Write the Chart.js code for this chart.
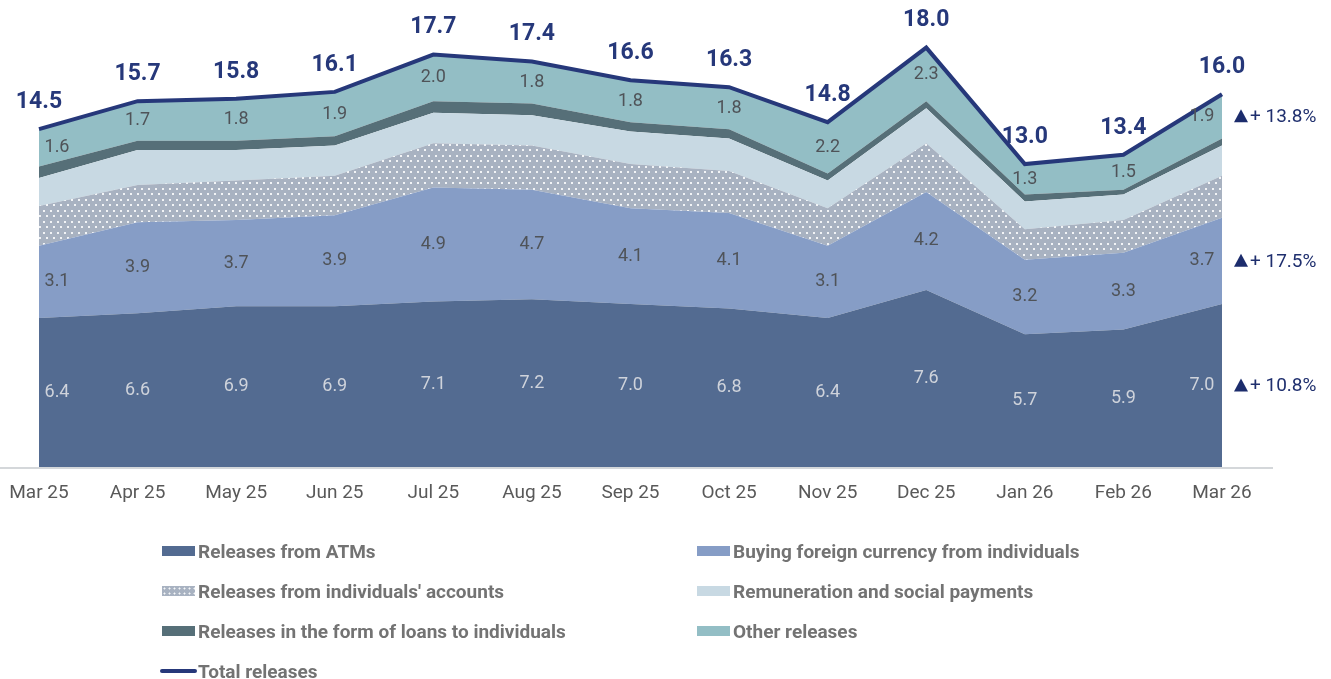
<!DOCTYPE html>
<html><head><meta charset="utf-8">
<script src="https://cdn.jsdelivr.net/npm/chart.js@4.4.1/dist/chart.umd.min.js"></script>
<style>
html,body{margin:0;padding:0;background:#fff;width:1331px;height:679px;overflow:hidden;font-family:Roboto,sans-serif;}
#wrap{position:absolute;left:0;top:0;width:1331px;height:520px;}
#legend{position:absolute;left:0;top:0;width:1331px;height:679px;pointer-events:none;}
.li{position:absolute;display:flex;align-items:center;height:22px;font:700 19px Roboto,sans-serif;color:#737373;white-space:nowrap;}
.sw{width:33px;height:10px;margin-right:3px;flex:none;}
</style></head>
<body>
<div id="wrap"><canvas id="c" width="1331" height="520"></canvas></div>
<div id="legend"></div>
<script>
// ---- data ----
const categories = ['Mar 25','Apr 25','May 25','Jun 25','Jul 25','Aug 25','Sep 25','Oct 25','Nov 25','Dec 25','Jan 26','Feb 26','Mar 26'];
const atms         = [6.4,6.6,6.9,6.9,7.1,7.2,7.0,6.8,6.4,7.6,5.7,5.9,7.0];
const fxBuying     = [3.1,3.9,3.7,3.9,4.9,4.7,4.1,4.1,3.1,4.2,3.2,3.3,3.7];
const accounts     = [1.7,1.6,1.7,1.7,1.9,1.9,1.9,1.8,1.6,2.1,1.3,1.4,1.8];
const remuneration = [1.2,1.5,1.3,1.3,1.3,1.3,1.4,1.4,1.2,1.5,1.2,1.1,1.3];
const loans        = [0.5,0.4,0.4,0.4,0.5,0.5,0.4,0.4,0.3,0.3,0.3,0.2,0.3];
const other        = [1.6,1.7,1.8,1.9,2.0,1.8,1.8,1.8,2.2,2.3,1.3,1.5,1.9];
const total        = [14.5,15.7,15.8,16.1,17.7,17.4,16.6,16.3,14.8,18.0,13.0,13.4,16.0];
const seriesNames  = ['Releases from ATMs','Buying foreign currency from individuals',"Releases from individuals' accounts",'Remuneration and social payments','Releases in the form of loans to individuals','Other releases','Total releases'];
const changeLabels = ['+ 10.8%','+ 17.5%','+ 13.8%']; // ATMs, buying FX, other releases

// ---- styles ----
const COLORS = ['#536b91','#869dc6','#a8b2c1','#c8d9e3','#566f78','#93bec5','#26387a'];
const canvas = document.getElementById('c');
const mctx = canvas.getContext('2d');
function dotPattern(){
  const t=document.createElement('canvas'); t.width=7; t.height=11;
  const g=t.getContext('2d'); g.fillStyle=COLORS[2]; g.fillRect(0,0,7,11);
  g.fillStyle='rgba(255,255,255,0.85)'; g.fillRect(1,1,2,2); g.fillRect(4,6,2,2);
  return mctx.createPattern(t,'repeat');
}
const areaSeries=[atms,fxBuying,accounts,remuneration,loans,other];
const datasets = areaSeries.map((d,i)=>({
  label:seriesNames[i], data:d, stack:'parts',
  backgroundColor: i===2 ? dotPattern() : COLORS[i],
  borderWidth:0, pointRadius:0, fill: i===0 ? 'origin' : '-1', order:1
}));
datasets.push({label:seriesNames[6], data:total, stack:'total', borderColor:COLORS[6], borderWidth:4,
  borderJoinStyle:'miter', fill:false, pointRadius:0, order:-1});

const axisLine = {
  id:'axisLine',
  afterDatasetsDraw(chart){
    const g=chart.ctx, yb=chart.scales.y.getPixelForValue(0);
    g.save(); g.strokeStyle='#d4d7da'; g.lineWidth=2;
    g.beginPath(); g.moveTo(0,yb+1); g.lineTo(1273,yb+1); g.stroke(); g.restore();
  }
};
const valueLabels = {
  id:'valueLabels',
  afterDraw(chart){
    const g=chart.ctx, ys=chart.scales.y, n=categories.length;
    g.save(); g.textAlign='center'; g.textBaseline='middle';
    const labeled=[{idx:0,color:'#cfd3db'},{idx:1,color:'#4f5358'},{idx:5,color:'#4f5358'}];
    labeled.forEach(({idx,color})=>{
      const meta=chart.getDatasetMeta(idx), below= idx===0?null:chart.getDatasetMeta(idx-1);
      const d=chart.data.datasets[idx].data;
      meta.data.forEach((pt,i)=>{
        const yb = below ? below.data[i].y : ys.getPixelForValue(0);
        let x=pt.x; if(i===0) x+=18; if(i===n-1) x-=20;
        g.fillStyle=color; g.font='18px Roboto';
        g.fillText(d[i].toFixed(1), x, (pt.y+yb)/2);
      });
    });
    // totals
    const tm=chart.getDatasetMeta(6);
    g.font='bold 23px Roboto'; g.fillStyle=COLORS[6];
    tm.data.forEach((pt,i)=>{ g.fillText(total[i].toFixed(1), pt.x, pt.y-27); });
    // change annotations at right
    const last=n-1, idxs=[0,1,5];
    idxs.forEach((idx,k)=>{
      const top=chart.getDatasetMeta(idx).data[last].y;
      const bot= idx===0 ? ys.getPixelForValue(0) : chart.getDatasetMeta(idx-1).data[last].y;
      const y=(top+bot)/2;
      g.fillStyle='#1c2c6c';
      g.beginPath(); g.moveTo(1234,y+6); g.lineTo(1248,y+6); g.lineTo(1241,y-7); g.closePath(); g.fill();
      g.textAlign='left'; g.font='19px Roboto'; g.fillStyle='#1f2f6e';
      g.fillText(changeLabels[k], 1250, y+1);
    });
    g.restore();
  }
};

new Chart(canvas,{
  type:'line',
  data:{labels:categories, datasets},
  options:{
    responsive:false, animation:false,
    layout:{padding:{left:39,right:109,top:1,bottom:0}},
    plugins:{legend:{display:false},tooltip:{enabled:false}},
    elements:{line:{tension:0}},
    scales:{
      x:{offset:false, grid:{display:false, drawTicks:false}, border:{display:false},
         ticks:{font:{family:'Roboto',size:19,lineHeight:'44px'}, color:'#595959', padding:4, maxRotation:0, autoSkip:false},
         afterFit(s){ s.height=53; }},
      y:{display:false, stacked:true, min:0, max:20}
    }
  },
  plugins:[axisLine,valueLabels]
});

// ---- HTML legend ----
const legendItems=[
  {i:0,x:162,y:551},{i:1,x:697,y:551},
  {i:2,x:162,y:591},{i:3,x:697,y:591},
  {i:4,x:162,y:631},{i:5,x:697,y:631},
  {i:6,x:160,y:671}
];
const L=document.getElementById('legend');
legendItems.forEach(it=>{
  const d=document.createElement('div'); d.className='li';
  d.style.left=it.x+'px'; d.style.top=(it.y-11)+'px';
  const s=document.createElement('span'); s.className='sw';
  if(it.i===6){ s.style.height='4px'; s.style.width='37px'; s.style.marginRight='1px'; s.style.borderRadius='2px'; s.style.background=COLORS[6]; }
  else if(it.i===2){ s.style.background='radial-gradient(circle, rgba(255,255,255,0.9) 0.8px, transparent 1.2px) 0 0/5px 5px, '+COLORS[2]; }
  else s.style.background=COLORS[it.i];
  const t=document.createElement('span'); t.textContent=seriesNames[it.i];
  d.appendChild(s); d.appendChild(t); L.appendChild(d);
});
</script>
</body></html>
